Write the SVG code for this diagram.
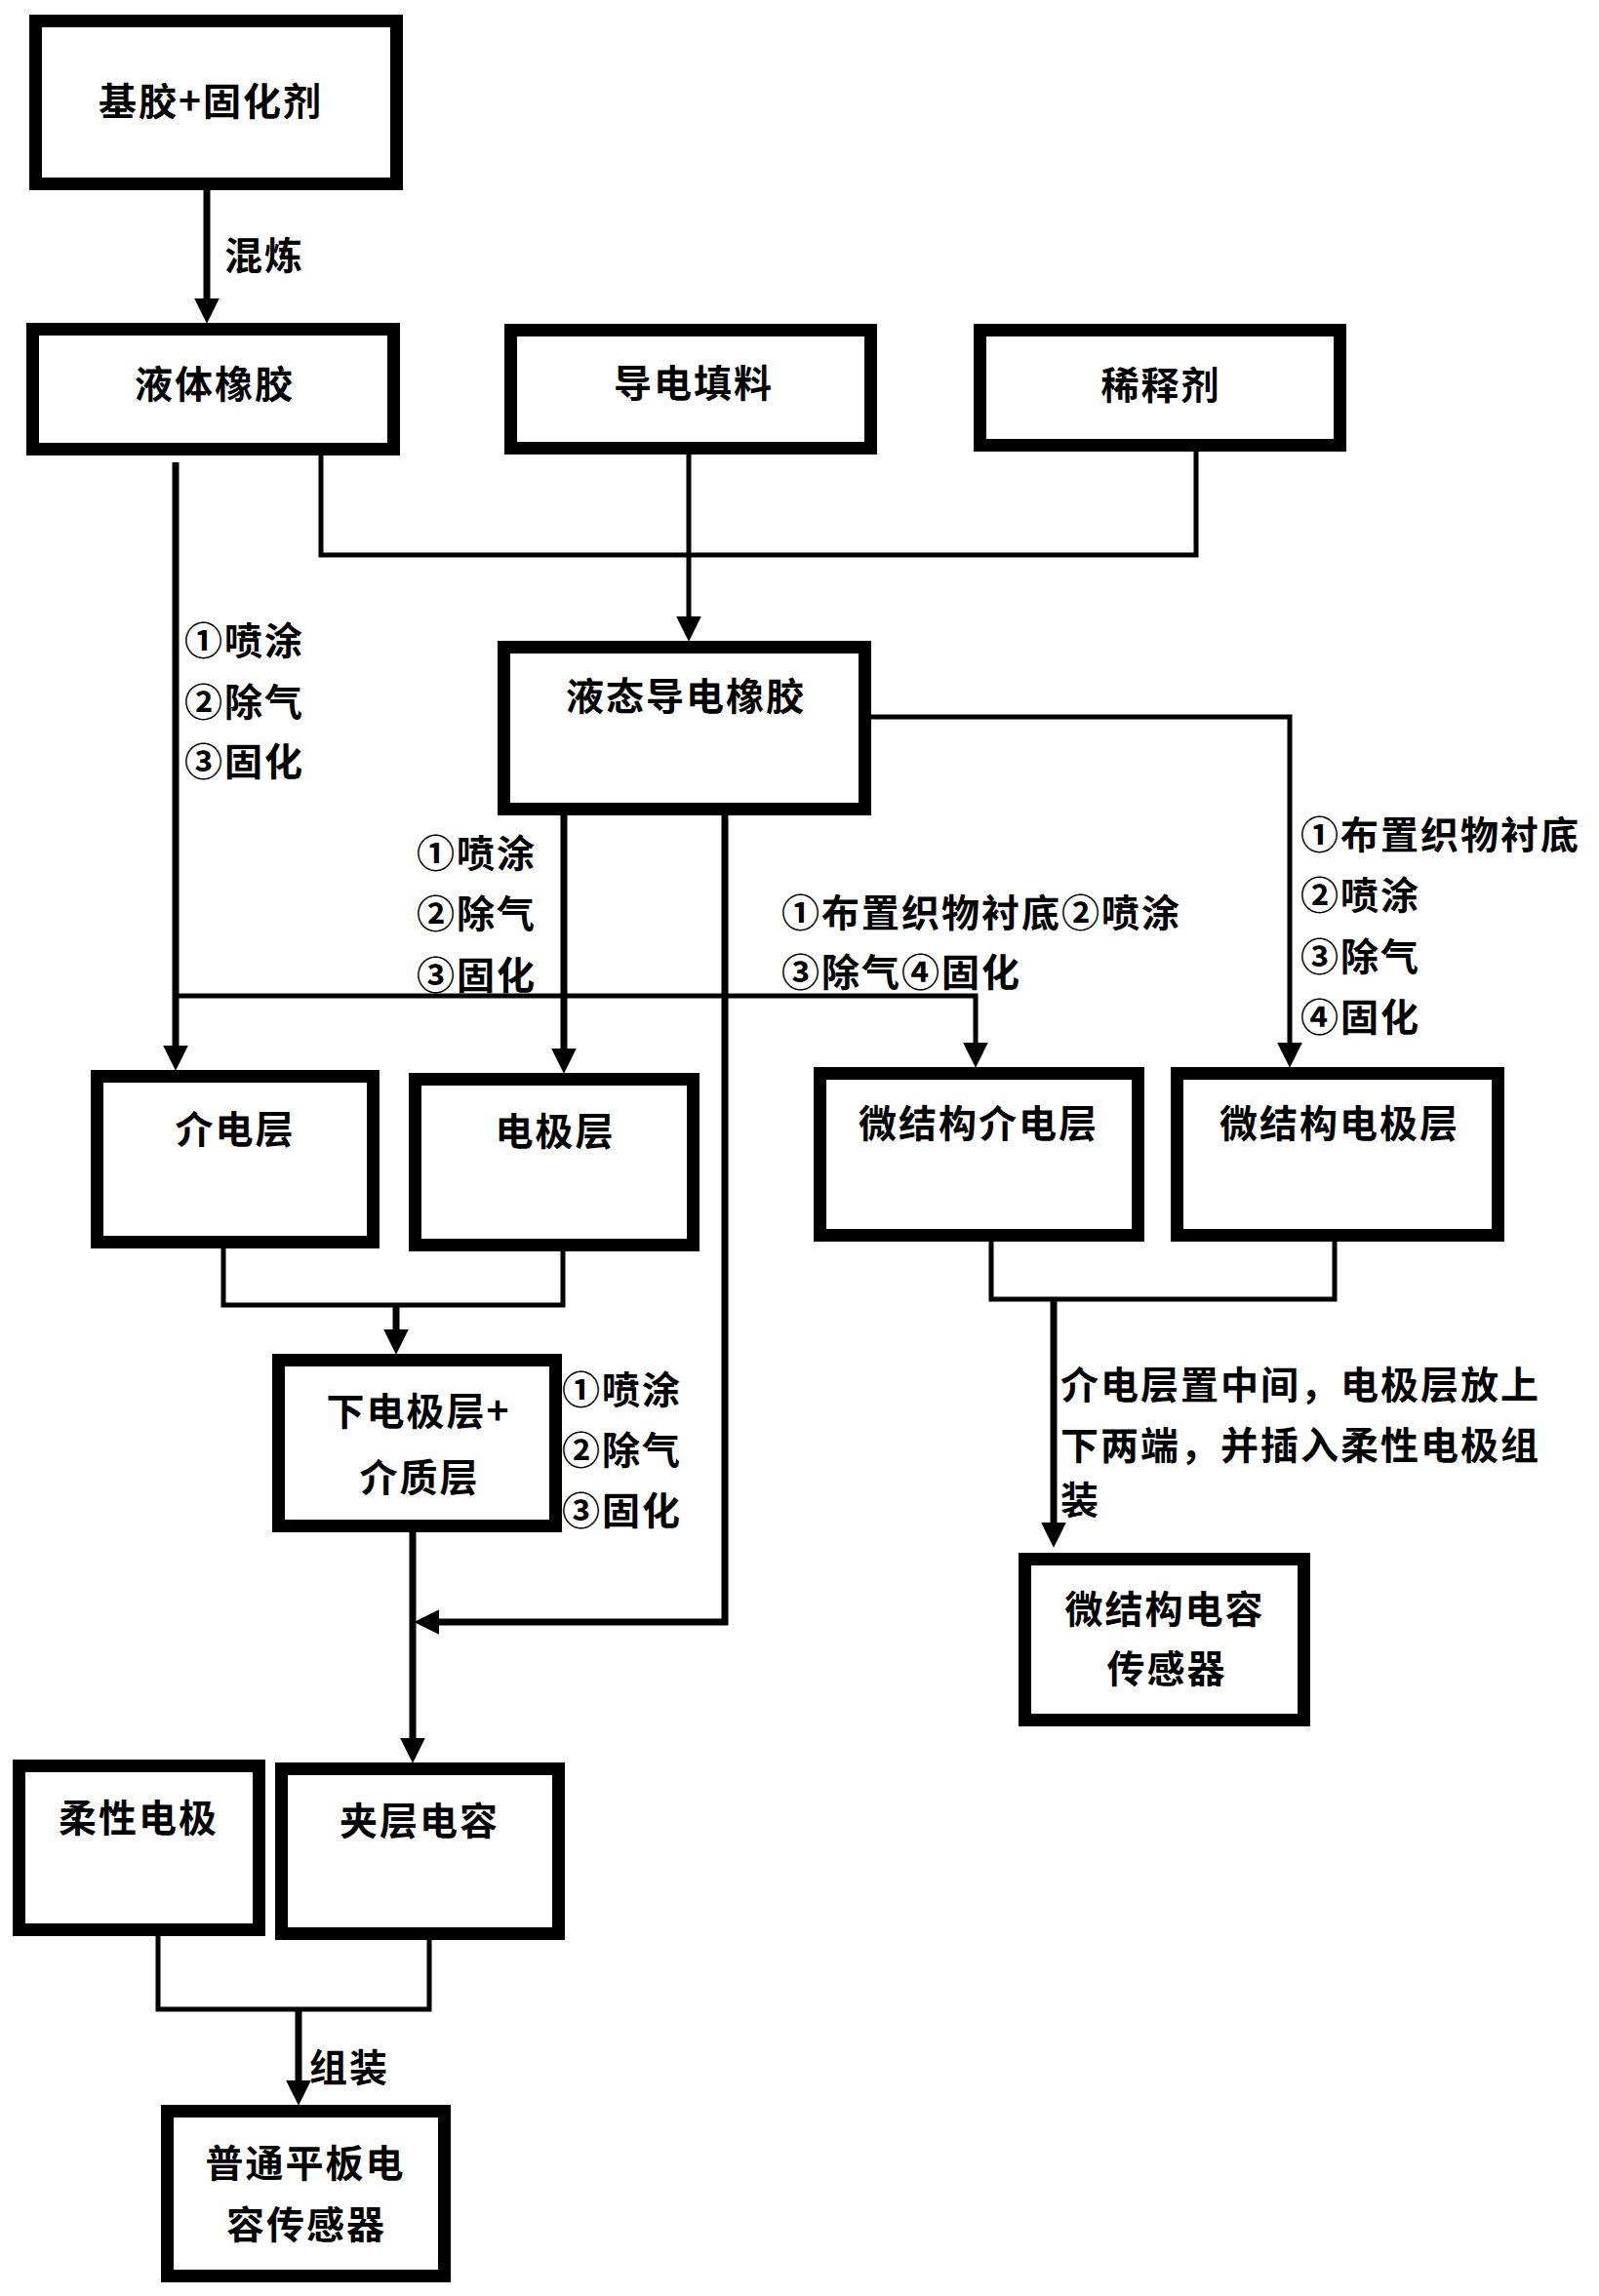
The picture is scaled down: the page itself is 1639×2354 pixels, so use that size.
<svg xmlns="http://www.w3.org/2000/svg" width="1639" height="2354" viewBox="0 0 1639 2354">
<style>
.box{fill:#fff;stroke:#000;stroke-width:13}
.t{font-family:"Noto Sans CJK SC","Noto Sans",sans-serif;font-weight:700;font-size:39px;letter-spacing:2px;fill:#000;dominant-baseline:central}
.c{text-anchor:middle}
.ln{fill:none;stroke:#000;stroke-width:5}
.ar{fill:none;stroke:#000;stroke-width:7;marker-end:url(#ah)}
.art{fill:none;stroke:#000;stroke-width:5;marker-end:url(#ah)}
</style>
<defs>
<marker id="ah" markerUnits="userSpaceOnUse" markerWidth="26" markerHeight="26" viewBox="0 0 24 24" refX="16" refY="12" orient="auto">
<path d="M0,0 L24,12 L0,24 z" fill="#000"/>
</marker>
</defs>
<rect width="1639" height="2354" fill="#fff"/>
<g id="nodes">
<g id="n1"><rect class="box" x="36.5" y="21.5" width="370" height="167"/><text class="t c" x="216" y="101">基胶+固化剂</text></g>
<g id="n2"><rect class="box" x="33.5" y="337.5" width="370" height="123"/><text class="t c" x="220" y="391">液体橡胶</text></g>
<g id="n3"><rect class="box" x="523.5" y="338.5" width="369" height="121"/><text class="t c" x="711" y="390">导电填料</text></g>
<g id="n4"><rect class="box" x="1004.5" y="338.5" width="369" height="118"/><text class="t c" x="1190" y="392">稀释剂</text></g>
<g id="n5"><rect class="box" x="516.5" y="663.5" width="370" height="166"/><text class="t c" x="703" y="711">液态导电橡胶</text></g>
<g id="n6"><rect class="box" x="99.5" y="1103.5" width="283" height="170"/><text class="t c" x="241" y="1155">介电层</text></g>
<g id="n7"><rect class="box" x="425.5" y="1106.5" width="285" height="170"/><text class="t c" x="569" y="1157">电极层</text></g>
<g id="n8"><rect class="box" x="840.5" y="1100.5" width="326" height="166"/><text class="t c" x="1003" y="1149">微结构介电层</text></g>
<g id="n9"><rect class="box" x="1206.5" y="1100.5" width="329" height="166"/><text class="t c" x="1373" y="1149">微结构电极层</text></g>
<g id="n10"><rect class="box" x="285.5" y="1394.5" width="284" height="170"/><text class="t c" x="429" y="1444">下电极层+</text><text class="t c" x="430" y="1512">介质层</text></g>
<g id="n11"><rect class="box" x="1050.5" y="1598.5" width="286" height="165"/><text class="t c" x="1194" y="1647">微结构电容</text><text class="t c" x="1196" y="1708">传感器</text></g>
<g id="n12"><rect class="box" x="19.5" y="1810.5" width="246" height="168"/><text class="t c" x="142" y="1861">柔性电极</text></g>
<g id="n13"><rect class="box" x="288.5" y="1813.5" width="284" height="169"/><text class="t c" x="430" y="1864">夹层电容</text></g>
<g id="n14"><rect class="box" x="171.5" y="2164.5" width="284" height="169"/><text class="t c" x="313" y="2215">普通平板电</text><text class="t c" x="314" y="2278">容传感器</text></g>
</g>
<g id="connectors">
<path class="ar" d="M212,195 V323"/>
<path class="ln" d="M329,467 V569 H1226 V463"/>
<path class="art" d="M706,466 V649"/>
<path class="ar" d="M180,474 V1089"/>
<path class="art" d="M183,1021 H1000 V1086"/>
<path class="ar" d="M578,836 V1092"/>
<path class="ar" d="M743,836 V1663 H433"/>
<path class="art" d="M893,735 H1322 V1086"/>
<path class="ln" d="M229,1280 V1338 H577 V1283"/>
<path class="ar" d="M406,1338 V1380"/>
<path class="ar" d="M423,1571 V1799"/>
<path class="ln" d="M1016,1273 V1332 H1368 V1273"/>
<path class="ar" d="M1080,1332 V1578"/>
<path class="ln" d="M162,1985 V2060 H440 V1989"/>
<path class="ar" d="M306,2060 V2150"/>
</g>
<g id="labels">
<text class="t" x="230" y="259">混炼</text>
<text class="t" x="189" y="654">①喷涂</text>
<text class="t" x="189" y="717">②除气</text>
<text class="t" x="189" y="778">③固化</text>
<text class="t" x="427" y="872">①喷涂</text>
<text class="t" x="427" y="934">②除气</text>
<text class="t" x="427" y="997">③固化</text>
<text class="t" x="801" y="933">①布置织物衬底②喷涂</text>
<text class="t" x="801" y="994">③除气④固化</text>
<text class="t" x="1333" y="853">①布置织物衬底</text>
<text class="t" x="1333" y="915">②喷涂</text>
<text class="t" x="1333" y="978">③除气</text>
<text class="t" x="1333" y="1040">④固化</text>
<text class="t" x="576" y="1422">①喷涂</text>
<text class="t" x="576" y="1484">②除气</text>
<text class="t" x="576" y="1546">③固化</text>
<text class="t" x="1087" y="1417">介电层置中间，电极层放上</text>
<text class="t" x="1087" y="1479">下两端，并插入柔性电极组</text>
<text class="t" x="1087" y="1535">装</text>
<text class="t" x="317" y="2117">组装</text>
</g>
</svg>
